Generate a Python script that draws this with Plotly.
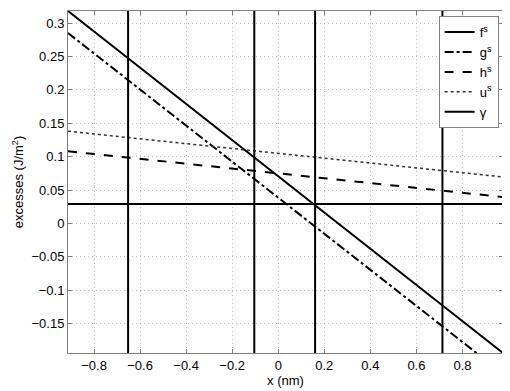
import plotly.graph_objects as go

# end points of the straight lines (x in nm, excesses in J/m^2)
x_ends = [-0.913, 0.976]
f_s = [0.318, -0.194]
g_s = [0.285, -0.225]
h_s = [0.108, 0.0395]
u_s = [0.138, 0.0695]
gamma = [0.029, 0.029]

# positions of the vertical markers
x_marks = [-0.652, -0.104, 0.16, 0.713]
y_span = [-0.3, 0.4]

x_range = [-0.913, 0.976]
y_range = [-0.194, 0.318]

fig = go.Figure()
fig.add_trace(go.Scatter(x=x_ends, y=f_s, name='f<sup>s</sup>', mode='lines',
                         line=dict(color='black', width=2)))
fig.add_trace(go.Scatter(x=x_ends, y=g_s, name='g<sup>s</sup>', mode='lines',
                         line=dict(color='black', width=2, dash='dashdot')))
fig.add_trace(go.Scatter(x=x_ends, y=h_s, name='h<sup>s</sup>', mode='lines',
                         line=dict(color='black', width=2, dash='dash')))
fig.add_trace(go.Scatter(x=x_ends, y=u_s, name='u<sup>s</sup>', mode='lines',
                         line=dict(color='#333333', width=1.5, dash='dot')))
fig.add_trace(go.Scatter(x=x_ends, y=gamma, name='γ', mode='lines',
                         line=dict(color='black', width=2)))
for xm in x_marks:
    fig.add_trace(go.Scatter(x=[xm, xm], y=y_span, mode='lines', showlegend=False,
                             line=dict(color='black', width=2)))

axis_style = dict(showline=True, linecolor='#808080', linewidth=1, mirror='ticks',
                  ticks='inside', ticklen=4, tickcolor='#808080',
                  showgrid=True, gridcolor='#bdbdbd', griddash='1px,3px', gridwidth=1,
                  zeroline=False, automargin=False,
                  tickfont=dict(size=13, color='black'))

fig.update_xaxes(range=x_range, tickvals=[-0.8, -0.6, -0.4, -0.2, 0, 0.2, 0.4, 0.6, 0.8],
                 title=dict(text='x (nm)', standoff=0, font=dict(size=13)), **axis_style)
fig.update_yaxes(range=y_range,
                 tickvals=[-0.15, -0.1, -0.05, 0, 0.05, 0.1, 0.15, 0.2, 0.25, 0.3],
                 title=dict(text='excesses (J/m<sup>2</sup>)', standoff=4, font=dict(size=13)),
                 **axis_style)

# page body keeps an 8px margin, so the figure is 8px smaller
fig.update_layout(width=502, height=383,
                  margin=dict(l=60, r=7, t=3, b=38, autoexpand=False),
                  font=dict(family='Liberation Sans, Arial, sans-serif', size=13, color='black'),
                  plot_bgcolor='white', paper_bgcolor='white',
                  legend=dict(x=0.99, y=0.985, xanchor='right', yanchor='top',
                              bgcolor='white', bordercolor='#808080', borderwidth=1,
                              font=dict(size=13), itemwidth=30, tracegroupgap=0))

fig.write_html("out.html")
